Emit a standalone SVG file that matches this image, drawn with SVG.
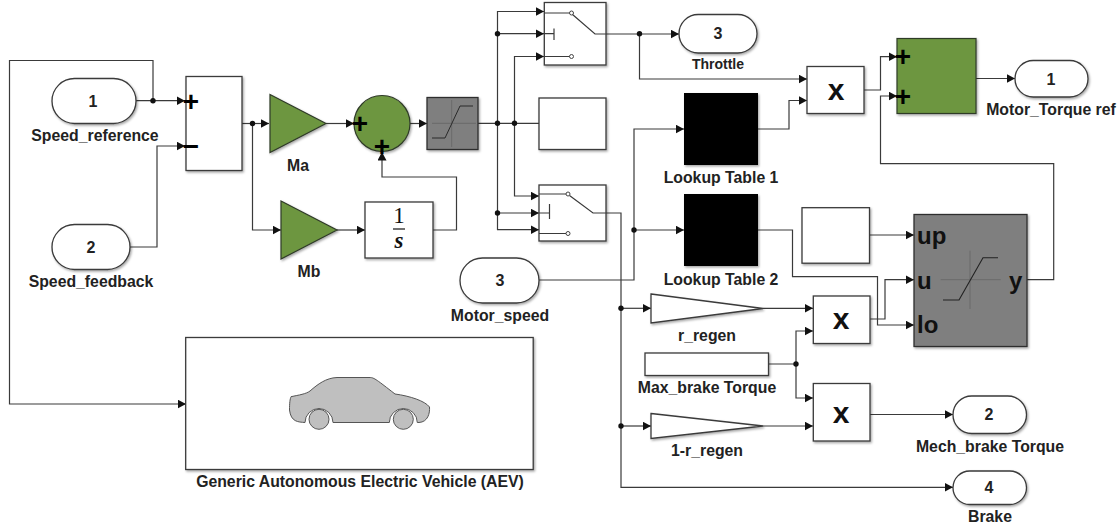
<svg xmlns="http://www.w3.org/2000/svg" width="1120" height="528" viewBox="0 0 1120 528">
<style>
text{font-family:"Liberation Sans",Arial,sans-serif;font-weight:700;fill:#222;text-anchor:middle}
.lbl{font-size:15.8px}
.th{font-size:14px}
.num{font-size:16px}
.mul{font-size:30px;fill:#111}
.sign{font-size:28px;fill:#000}
.port{font-size:24px;fill:#111;text-anchor:start}
.b{fill:#fff;stroke:#3a3a3a;stroke-width:1.3;filter:url(#sh)}
.g{fill:#6d9640;stroke:#2f3a28;stroke-width:1.2;filter:url(#sh)}
.k{fill:#7f7f7f;stroke:#2e2e2e;stroke-width:1.3;filter:url(#sh)}
.blk{fill:#000;filter:url(#sh)}
.w{fill:none;stroke:#3a3a3a;stroke-width:1.2}
.a{fill:none;stroke:#3a3a3a;stroke-width:1.2;marker-end:url(#ah)}
.i{fill:none;stroke:#3a3a3a;stroke-width:1.2}
.ax{fill:none;stroke:#6a6a6a;stroke-width:1}
.c{fill:#fff;stroke:#444;stroke-width:1}
.j{fill:#111}
</style>
<defs>
<marker id="ah" markerUnits="userSpaceOnUse" markerWidth="10" markerHeight="10" refX="8.500" refY="4.500" orient="auto"><path d="M0 0L8.500 4.500L0 9Z" fill="#111"/></marker>
<filter id="sh" x="-10%" y="-10%" width="125%" height="125%"><feDropShadow dx="1.2" dy="1.5" stdDeviation="1.2" flood-color="#000" flood-opacity=".35"/></filter>
</defs>
<rect width="1120" height="528" fill="#fff"/>
<g id="connectors">
<path class="a" d="M136 100.700H185"/>
<path class="a" d="M153 100.700V60.500H9.500V404H186"/>
<path class="a" d="M130 247H157V146H185"/>
<path class="a" d="M242 123.500H269"/>
<path class="a" d="M252.500 123.500V230H281"/>
<path class="a" d="M326 123.500H354"/>
<path class="a" d="M337 230H365"/>
<path class="a" d="M433 230H456.500V177H382V152"/>
<path class="a" d="M410 123.500H427"/>
<path class="w" d="M478 123.300H539"/>
<path class="a" d="M497.500 123.300V11.500H544"/>
<path class="a" d="M497.500 33.700H544"/>
<path class="a" d="M514.500 123.300V56.500H544"/>
<path class="a" d="M514.500 123.300V196H539"/>
<path class="a" d="M497.500 123.300V229.700H539"/>
<path class="a" d="M497.500 213H539"/>
<path class="a" d="M606 34H679"/>
<path class="a" d="M639.500 34V79H807"/>
<path class="a" d="M606 213H621V487.300H953"/>
<path class="a" d="M539 280H634V129H684"/>
<path class="a" d="M634 230H684"/>
<path class="a" d="M758 129H789V100.500H807"/>
<path class="a" d="M864 90H880.500V56.700H897"/>
<path class="a" d="M1027 279.700H1053.700V163.700H880.500V96H897"/>
<path class="a" d="M976 78.500H1015"/>
<path class="a" d="M870 235H914"/>
<path class="a" d="M758 230H792.500V276.700H877.500V325H914"/>
<path class="a" d="M870 319H885V279.700H914"/>
<path class="a" d="M621 308.300H651"/>
<path class="a" d="M763 308.300H813"/>
<path class="a" d="M768.500 364H796V331H813"/>
<path class="a" d="M796 364V398H813"/>
<path class="a" d="M621 426H651"/>
<path class="a" d="M763 426H813"/>
<path class="a" d="M870 414.500H953"/>
<circle class="j" cx="153" cy="100.700" r="2.700"/>
<circle class="j" cx="252.500" cy="123.500" r="2.700"/>
<circle class="j" cx="497.500" cy="123.300" r="2.700"/>
<circle class="j" cx="514.500" cy="123.300" r="2.700"/>
<circle class="j" cx="497.500" cy="33.700" r="2.700"/>
<circle class="j" cx="497.500" cy="213" r="2.700"/>
<circle class="j" cx="639.500" cy="33.700" r="2.700"/>
<circle class="j" cx="634" cy="230" r="2.700"/>
<circle class="j" cx="621" cy="308.300" r="2.700"/>
<circle class="j" cx="621" cy="426" r="2.700"/>
<circle class="j" cx="796" cy="364" r="2.700"/>
</g>
<g id="in1"><rect class="b" x="52" y="78.500" width="84" height="45" rx="22.500"/><text class="num" x="93" y="107">1</text><text class="lbl" x="95" y="141">Speed_reference</text></g>
<g id="in2"><rect class="b" x="52" y="224.500" width="78" height="45" rx="22.500"/><text class="num" x="91" y="253">2</text><text class="lbl" x="91" y="287">Speed_feedback</text></g>
<g id="subtract"><rect class="b" x="186" y="76.500" width="56" height="94"/><text class="sign" x="191" y="110.500">+</text><text class="sign" x="191" y="155.500">−</text></g>
<g id="Ma"><path class="g" d="M270 94.500L326 123.500L270 152.500Z"/><text class="lbl" x="298" y="171">Ma</text></g>
<g id="Mb"><path class="g" d="M281 201L337 230L281 259Z"/><text class="lbl" x="309" y="277">Mb</text></g>
<g id="sum"><circle class="g" cx="382" cy="123.500" r="28"/><text class="sign" x="360" y="133">+</text><text class="sign" x="382" y="155.500">+</text></g>
<g id="sat1"><rect class="k" x="427" y="97.500" width="51" height="52"/><path class="ax" d="M451.700 100V147M432 123.300H476"/><path d="M432 138H445L460 106H473" fill="none" stroke="#2a2a2a" stroke-width="1"/></g>
<g id="integrator"><rect class="b" x="365" y="202" width="68" height="56"/><text x="399" y="223" style="font-family:'Liberation Serif',serif;font-size:23px;font-weight:400;fill:#111">1</text><path d="M393 229H405" stroke="#111" stroke-width="1.200"/><text x="399" y="248" style="font-family:'Liberation Serif',serif;font-size:23px;font-style:italic;font-weight:700;fill:#111">s</text></g>
<g id="switch1"><rect class="b" x="544.300" y="2.500" width="61.700" height="62.500"/><path class="i" d="M544 13H570M544 33.700H554M554 28.500V40M544 56.500H570M572.500 14.500L595 34H606"/><circle class="c" cx="571.500" cy="13" r="2"/><circle class="c" cx="571.500" cy="56.500" r="2"/></g>
<g id="midblock"><rect class="b" x="539" y="98" width="67" height="51.500"/></g>
<g id="switch2"><rect class="b" x="539" y="185" width="67" height="56"/><path class="i" d="M539 194H566.500M539 213H549.500M549.500 204V219M539 233.500H566.500M569.500 195.500L593 213H606"/><circle class="c" cx="568" cy="194" r="2"/><circle class="c" cx="568" cy="233.500" r="2"/></g>
<g id="out3"><rect class="b" x="679" y="14.500" width="78" height="38.500" rx="19.250"/><text class="num" x="718" y="39">3</text><text class="lbl th" x="718" y="69">Throttle</text></g>
<g id="motor_speed"><rect class="b" x="460" y="258" width="79" height="45" rx="22.500"/><text class="num" x="500" y="286">3</text><text class="lbl" x="500" y="321">Motor_speed</text></g>
<g id="lut1"><rect class="blk" x="684" y="93" width="74" height="72"/><text class="lbl" x="721" y="183">Lookup Table 1</text></g>
<g id="lut2"><rect class="blk" x="684" y="194" width="74" height="72"/><text class="lbl" x="721" y="285">Lookup Table 2</text></g>
<g id="prod1"><rect class="b" x="807" y="66.500" width="57" height="47"/><text class="mul" x="836" y="100">x</text></g>
<g id="green"><rect class="g" x="897" y="38.500" width="79" height="75"/><text class="sign" x="903" y="65.500">+</text><text class="sign" x="903" y="105.500">+</text></g>
<g id="out1"><rect class="b" x="1015" y="60.500" width="73" height="36.500" rx="18.250"/><text class="num" x="1051" y="85">1</text><text class="lbl" x="1051" y="115">Motor_Torque ref</text></g>
<g id="const"><rect class="b" x="802" y="207.700" width="67.500" height="55.500"/></g>
<g id="sat2"><rect class="k" x="914" y="214.500" width="113" height="132"/><path class="ax" d="M970 250.700V309M940.700 279.700H1000.700"/><path d="M943 300H959L983 257.700H998" fill="none" stroke="#222" stroke-width="1.100"/><text class="port" x="917" y="244">up</text><text class="port" x="917" y="289">u</text><text class="port" x="917" y="333">lo</text><text class="port" x="1009" y="289">y</text></g>
<g id="prod2"><rect class="b" x="813.300" y="296" width="56.700" height="47.500"/><text class="mul" x="841" y="329">x</text></g>
<g id="prod3"><rect class="b" x="813.300" y="383.500" width="56.700" height="57.500"/><text class="mul" x="841" y="423">x</text></g>
<g id="r_regen"><path class="b" d="M651 294L763 308.500L651 323Z"/><text class="lbl" x="707" y="341">r_regen</text></g>
<g id="max_brake"><rect class="b" x="645" y="353" width="123.500" height="22.500"/><text class="lbl" x="707" y="393">Max_brake Torque</text></g>
<g id="one_minus"><path class="b" d="M651 413.500L763 426L651 438.500Z"/><text class="lbl" x="707" y="456">1-r_regen</text></g>
<g id="out2"><rect class="b" x="953" y="396" width="73.500" height="37.500" rx="18.750"/><text class="num" x="989" y="420">2</text><text class="lbl" x="990" y="452">Mech_brake Torque</text></g>
<g id="out4"><rect class="b" x="953" y="471" width="73.500" height="33.500" rx="16.750"/><text class="num" x="989" y="493">4</text><text class="lbl" x="990" y="522">Brake</text></g>
<g id="vehicle"><rect class="b" x="185.700" y="337.500" width="347.500" height="132"/>
<path d="M289.500 410C289.500 403 290 399 291 396.700C299 395 306 394 310 391C318 384 326 378 337 377.500H370C374 377.500 377 380 395 394C410 396 425 401 429.500 407C430 413 428 422 419 422.500H417.300A14 14 0 0 0 389.300 422.500H333A14 14 0 0 0 305 422.500C298 422 291 422 289.500 410Z" fill="#bfbfbf" stroke="#555" stroke-width="1"/>
<circle cx="319" cy="419.300" r="10" fill="#bfbfbf" stroke="#555"/><circle cx="403.300" cy="419.300" r="10" fill="#bfbfbf" stroke="#555"/>
<text class="lbl" x="360" y="487">Generic Autonomous Electric Vehicle (AEV)</text></g>
</svg>
